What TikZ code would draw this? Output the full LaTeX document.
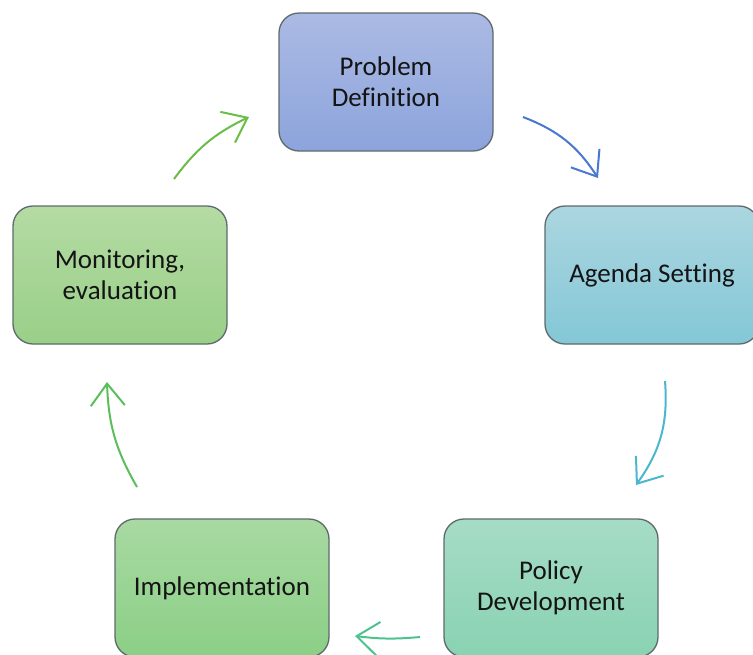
\documentclass[tikz,border=0pt]{standalone}
\usepackage{fontspec}
\setmainfont{Carlito}[RawFeature=-liga]
\usepackage{tikz}
\usetikzlibrary{
arrows.meta,
positioning,
calc
}
\definecolor{boxline}{HTML}{5E6A6C}
\definecolor{probtop}{HTML}{ABBAE4}
\definecolor{probbot}{HTML}{8CA4DC}
\definecolor{agtop}{HTML}{ABD6E0}
\definecolor{agbot}{HTML}{84C7D6}
\definecolor{poltop}{HTML}{A6DCC6}
\definecolor{polbot}{HTML}{89D2B2}
\definecolor{imptop}{HTML}{A8D9A2}
\definecolor{impbot}{HTML}{8BCF86}
\definecolor{montop}{HTML}{B4DBA3}
\definecolor{monbot}{HTML}{99CF88}
\definecolor{arblue}{HTML}{4A78CF}
\definecolor{arteal}{HTML}{4BB7CE}
\definecolor{armint}{HTML}{4DC28F}
\definecolor{argreen}{HTML}{5CBE5B}
\definecolor{arlime}{HTML}{6ABD48}
\begin{document}
\begin{tikzpicture}[x=1pt,y=1pt,
    stage/.style 2 args={draw=boxline, line width=1.3pt, rounded corners=20pt,
      top color=#1, bottom color=#2, minimum width=214pt, minimum height=138pt,
      align=center, font=\fontsize{27}{31}\selectfont, text=black!92},
    cyc/.style={line width=2pt, draw=#1, -{Straight Barb[length=22pt,width=34pt]}}]
    \useasboundingbox (0,0) rectangle (753,-654);
    \node[stage={probtop}{probbot}] (prob) at (386,-82) {Problem\\Definition};
    \node[stage={agtop}{agbot}] (agenda) at (652,-275) {Agenda Setting};
    \node[stage={poltop}{polbot}] (policy) at (551,-588) {Policy\\Development};
    \node[stage={imptop}{impbot}] (impl) at (222,-588) {Implementation};
    \node[stage={montop}{monbot}] (monit) at (120,-275) {Monitoring,\\evaluation};
    % arrow ends
    \coordinate (pa1) at (523,-117);
    \coordinate (pa2) at (598,-178);
    \coordinate (ap1) at (665,-381);
    \coordinate (ap2) at (636,-485);
    \coordinate (pi1) at (420,-637);
    \coordinate (pi2) at (355,-636);
    \coordinate (im1) at (137,-487);
    \coordinate (im2) at (107,-382);
    \coordinate (mp1) at (174,-179);
    \coordinate (mp2) at (249,-117);
    \draw[cyc=arblue] (pa1) to[bend left=18] (pa2);
    \draw[cyc=arteal] (ap1) to[bend left=20] (ap2);
    \draw[cyc=armint] (pi1) to[bend left=6] (pi2);
    \draw[cyc=argreen] (im1) to[bend left=14] (im2);
    \draw[cyc=arlime] (mp1) to[bend left=14] (mp2);
\end{tikzpicture}
\end{document}
